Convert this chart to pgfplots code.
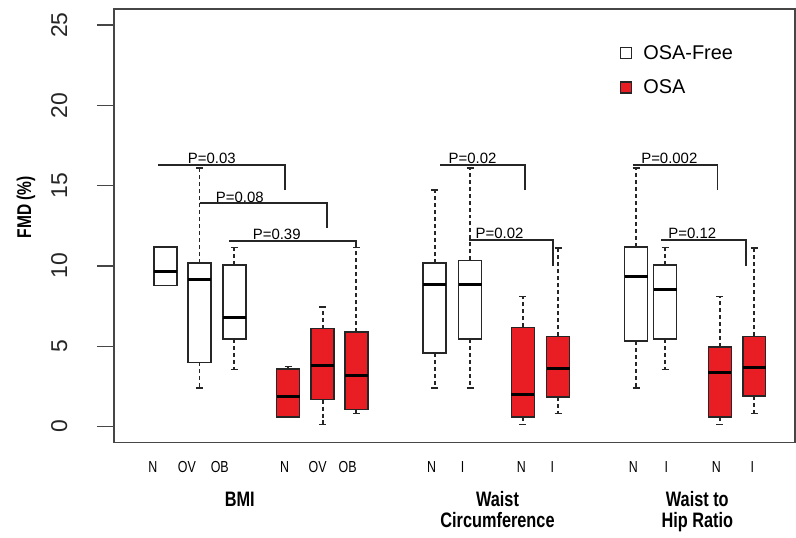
\documentclass[border=0pt]{standalone}
\usepackage{pgfplots}
\pgfplotsset{compat=1.18}
\usepgfplotslibrary{statistics}
\usepackage{fontspec}
\setmainfont{Liberation Sans}
\newfontfamily\narrowsans[FakeStretch=0.78]{Liberation Sans}
\definecolor{osared}{RGB}{232,30,36}
\definecolor{axgray}{RGB}{70,70,70}

\pgfplotsset{
  boxplot/draw/lower whisker/.code={%
    \draw[dash pattern=on 4bp off 3bp, line width=2bp, black!85]
      (boxplot whisker cs:\pgfplotsboxplotvalue{lower quartile},0.5) --
      (boxplot whisker cs:\pgfplotsboxplotvalue{lower whisker},0.5);
    \draw[line width=1.5bp, black!85]
      (boxplot whisker cs:\pgfplotsboxplotvalue{lower whisker},0) --
      (boxplot whisker cs:\pgfplotsboxplotvalue{lower whisker},1);
  },
  boxplot/draw/upper whisker/.code={%
    \draw[dash pattern=on 4bp off 3bp, line width=2bp, black!85]
      (boxplot whisker cs:\pgfplotsboxplotvalue{upper quartile},0.5) --
      (boxplot whisker cs:\pgfplotsboxplotvalue{upper whisker},0.5);
    \draw[line width=1.5bp, black!85]
      (boxplot whisker cs:\pgfplotsboxplotvalue{upper whisker},0) --
      (boxplot whisker cs:\pgfplotsboxplotvalue{upper whisker},1);
  },
  fmdbox/.style={forget plot, draw=black!85, line width=1.5bp,
    boxplot/draw direction=y,
    boxplot/box extend=23, boxplot/whisker extend=7,
    boxplot/every median/.style={line width=3bp, black}},
  freebox/.style={fmdbox, boxplot/every box/.style={fill=white}},
  osabox/.style={fmdbox, boxplot/every box/.style={fill=osared}},
  bracket/.style={black!85, line width=1.8bp, forget plot},
}
\tikzset{
  pval/.style={anchor=base, inner sep=0pt, text=black, font=\fontsize{15}{15}\selectfont},
  grp/.style={anchor=base, inner sep=0pt, font=\narrowsans\bfseries\fontsize{21}{21}\selectfont},
}

\begin{document}
\begin{tikzpicture}
\begin{axis}[
  scale only axis,
  width=682bp, height=434bp,
  xmin=114, xmax=796,
  ymin=-1, ymax=26,
  clip=false,
  axis line style={axgray, line width=1.6bp},
  ytick={0,5,10,15,20,25},
  ytick pos=left,
  xtick pos=bottom,
  ytick align=outside,
  xtick align=inside,
  major tick length=17bp,
  ytick style={axgray, line width=1.3bp},
  xtick style={draw=none},
  yticklabel style={xshift=-26bp, rotate=90, anchor=south, text=black!85,
    font=\fontsize{23}{23}\selectfont},
  /pgf/number format/assume math mode=true,
  xtick={153,187,220,285,318,348,432,463,522,553,634,667,717,753},
  xticklabels={N,OV,OB,N,OV,OB,N,I,N,I,N,I,N,I},
  xticklabel style={anchor=base, yshift=-29.5bp, text=black,
    font=\narrowsans\fontsize{16}{16}\selectfont},
  ylabel={FMD (\%)},
  ylabel style={at={(rel axis cs:-0.129,0.5426)}, anchor=center,
    font=\narrowsans\bfseries\fontsize{20}{20}\selectfont},
  legend style={draw=none, fill=none, at={(rel axis cs:0.742,0.921)},
    anchor=north west, inner sep=0pt, row sep=15bp,
    font=\fontsize{20}{20}\selectfont,
    nodes={inner sep=2bp}},
  legend cell align=left,
  legend image code/.code={\draw[#1] (0bp,-5.5bp) rectangle (11bp,5.5bp);
    \path[draw=none, fill=none] (0bp,0bp) -- (21bp,0bp);},
]
\addlegendimage{draw=black!85, line width=1.5bp, fill=white}
\addlegendentry{OSA-Free}
\addlegendimage{draw=black!85, line width=1.5bp, fill=osared}
\addlegendentry{OSA}

% BMI
\addplot[freebox, boxplot prepared={draw position=165.5, lower whisker=8.79, lower quartile=8.79, median=9.66, upper quartile=11.18, upper whisker=11.18}] coordinates {};
\addplot[freebox, boxplot prepared={draw position=199.7, lower whisker=2.40, lower quartile=4.00, median=9.14, upper quartile=10.18, upper whisker=16.09}] coordinates {};
\addplot[freebox, boxplot prepared={draw position=234.5, lower whisker=3.54, lower quartile=5.45, median=6.76, upper quartile=10.07, upper whisker=11.15}] coordinates {};
\addplot[osabox, boxplot prepared={draw position=288.3, lower whisker=0.58, lower quartile=0.58, median=1.89, upper quartile=3.59, upper whisker=3.75}] coordinates {};
\addplot[osabox, boxplot prepared={draw position=323.0, lower whisker=0.12, lower quartile=1.68, median=3.79, upper quartile=6.09, upper whisker=7.44}] coordinates {};
\addplot[osabox, boxplot prepared={draw position=356.7, lower whisker=0.81, lower quartile=1.06, median=3.17, upper quartile=5.87, upper whisker=11.15}] coordinates {};
% Waist circumference
\addplot[freebox, boxplot prepared={draw position=435.0, lower whisker=2.40, lower quartile=4.58, median=8.83, upper quartile=10.18, upper whisker=14.74}] coordinates {};
\addplot[freebox, boxplot prepared={draw position=470.5, lower whisker=2.40, lower quartile=5.45, median=8.83, upper quartile=10.34, upper whisker=16.09}] coordinates {};
\addplot[osabox, boxplot prepared={draw position=523.5, lower whisker=0.12, lower quartile=0.58, median=1.99, upper quartile=6.18, upper whisker=8.10}] coordinates {};
\addplot[osabox, boxplot prepared={draw position=558.7, lower whisker=0.81, lower quartile=1.85, median=3.59, upper quartile=5.62, upper whisker=11.11}] coordinates {};
% Waist to hip ratio
\addplot[freebox, boxplot prepared={draw position=636.7, lower whisker=2.40, lower quartile=5.31, median=9.35, upper quartile=11.18, upper whisker=16.09}] coordinates {};
\addplot[freebox, boxplot prepared={draw position=665.8, lower whisker=3.54, lower quartile=5.45, median=8.56, upper quartile=10.07, upper whisker=11.15}] coordinates {};
\addplot[osabox, boxplot prepared={draw position=720.5, lower whisker=0.12, lower quartile=0.58, median=3.34, upper quartile=4.95, upper whisker=8.10}] coordinates {};
\addplot[osabox, boxplot prepared={draw position=755.0, lower whisker=0.81, lower quartile=1.89, median=3.69, upper quartile=5.62, upper whisker=11.11}] coordinates {};

% brackets
\addplot[bracket] coordinates {(158.3,16.30) (285,16.30) (285,14.70)};
\addplot[bracket] coordinates {(199.7,13.91) (327.7,13.91) (327.7,12.36)};
\addplot[bracket] coordinates {(229.3,11.57) (356.7,11.57) (356.7,11.13)};
\addplot[bracket] coordinates {(440.7,16.30) (525.7,16.30) (525.7,14.70)};
\addplot[bracket] coordinates {(469.0,11.63) (553.3,11.63) (553.3,9.97)};
\addplot[bracket] coordinates {(633.3,16.30) (718.3,16.30) (718.3,14.70)};
\addplot[bracket] coordinates {(661.7,11.63) (746.7,11.63) (746.7,10.01)};

\node[pval] at (axis cs:212,16.36) {P=0.03};
\node[pval] at (axis cs:240,13.97) {P=0.08};
\node[pval] at (axis cs:277,11.63) {P=0.39};
\node[pval] at (axis cs:473,16.36) {P=0.02};
\node[pval] at (axis cs:500,11.69) {P=0.02};
\node[pval] at (axis cs:670,16.36) {P=0.002};
\node[pval] at (axis cs:693,11.69) {P=0.12};

\node[grp] at (axis cs:240,-4.98) {BMI};
\node[grp] at (axis cs:498,-4.98) {Waist};
\node[grp] at (axis cs:498,-6.29) {Circumference};
\node[grp] at (axis cs:698,-4.98) {Waist to};
\node[grp] at (axis cs:698,-6.29) {Hip Ratio};

\path (rel axis cs:-0.16716,-0.21889) rectangle (rel axis cs:1,1.02074);
\end{axis}
\end{tikzpicture}
\end{document}
